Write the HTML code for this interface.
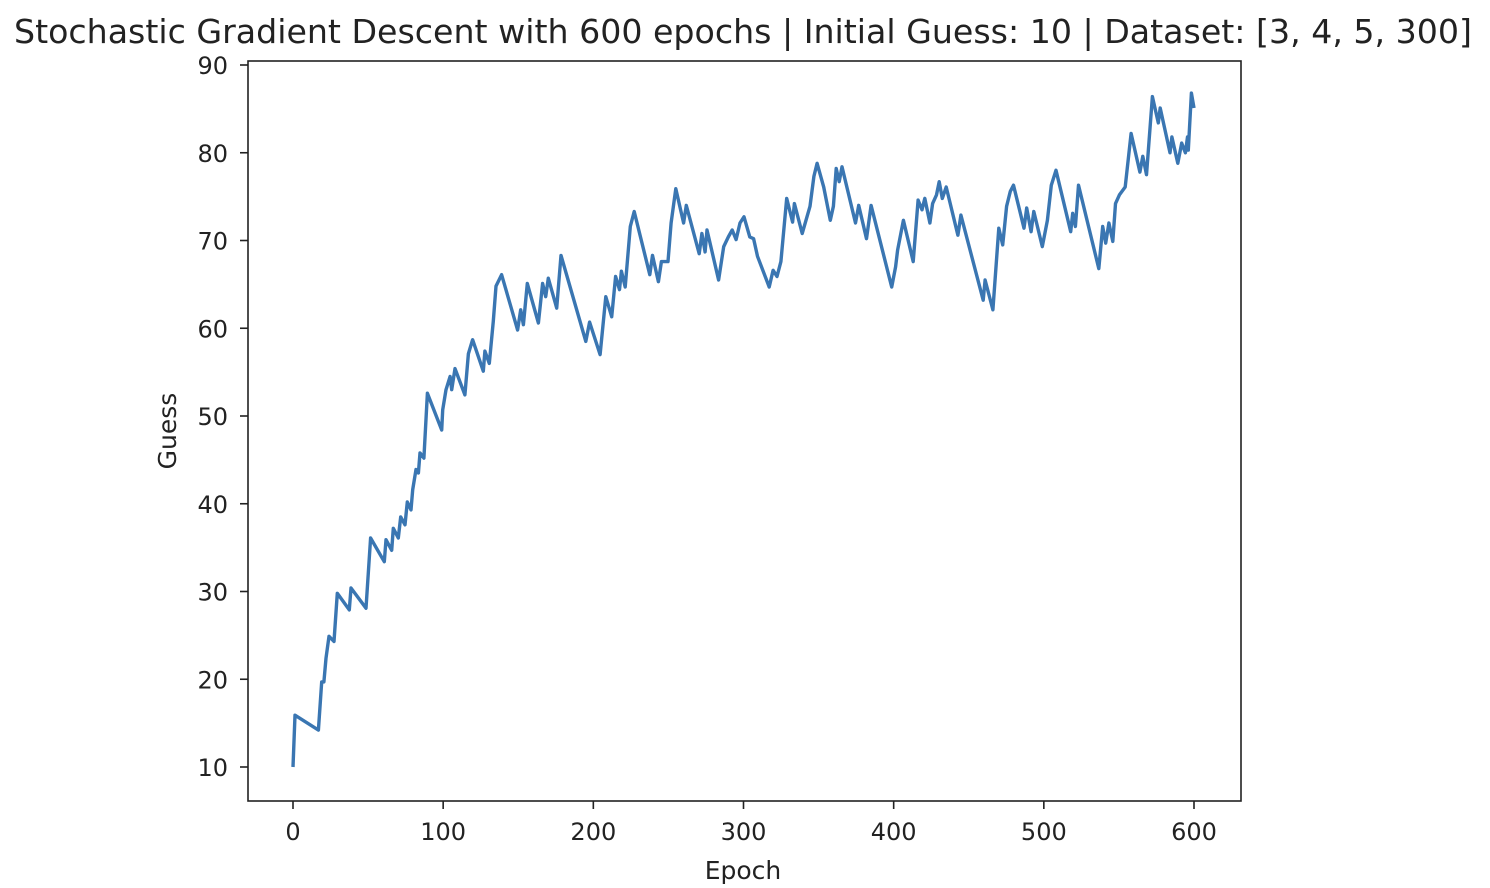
<!DOCTYPE html>
<html><head><meta charset="utf-8"><style>
body{margin:0;background:#fff;}
svg{display:block;font-family:"DejaVu Sans","Liberation Sans",sans-serif;}
</style></head><body>
<svg id="chart" width="1490" height="888">
<text x="14" y="43" textLength="1458" lengthAdjust="spacingAndGlyphs" font-size="33" fill="#222">Stochastic Gradient Descent with 600 epochs | Initial Guess: 10 | Dataset: [3, 4, 5, 300]</text>
<rect x="248" y="61" width="993" height="740" fill="none" stroke="#222" stroke-width="1.6"/>
<g id="xticks"></g>
<g id="yticks"></g>
<text x="743" y="879" text-anchor="middle" font-size="25" fill="#222">Epoch</text>
<text transform="translate(176,431) rotate(-90)" text-anchor="middle" font-size="25" fill="#222">Guess</text>
<path id="line" fill="none" stroke="#3a76b2" stroke-width="3.4" stroke-linejoin="round"/>
</svg>
<script>
const xTicks=[0,100,200,300,400,500,600];
const yTicks=[10,20,30,40,50,60,70,80,90];
const epochs=[0,1.3,16.9,19.1,20.6,22,24,27.3,29.5,37.5,38.6,48.6,51.7,60.8,61.9,65.7,66.8,70.1,71.7,74.6,76.1,78.6,79.7,81.9,83.5,84.6,87.2,89.5,99,99.7,101.9,104.6,105.7,107.9,114.5,116.8,119.6,126.7,127.8,130.7,133.4,135.2,138.9,149.6,151.6,153.4,156,163.4,166.2,168.3,170,175.6,178.5,195,197.5,204.5,208.3,212.2,214.8,217.4,218.7,221.2,224.6,227.2,237.6,239.4,243.3,245.3,249.7,251.8,254.9,260.1,261.9,270.5,272.3,274.4,275.7,283.4,286.8,289.9,292.5,295.1,297.7,300.3,304.2,306.7,309.3,317.1,319.7,322.3,324.9,328.8,332.7,333.9,339.1,344.3,346.9,349,353.4,357.8,359.9,361.7,363.7,365.6,374.6,376.7,381.9,385,398.7,401.3,402.6,406.5,413,416.3,418.9,420.7,424.1,425.9,428.5,430.3,432.4,435,442.8,444.8,459.6,460.9,466.1,470,472.6,475.2,477.7,479.8,486.8,488.6,491.5,493.3,499,502.4,505,508.1,517.9,519.2,521,523.1,536.6,539.2,541.2,543.3,545.9,547.7,550.3,554.2,558.1,564,565.9,568.4,572.3,576.2,577.5,584,585.3,589.2,591.8,594.3,595.7,596.2,598.3,600];
const guesses=[10,15.9,14.2,19.7,19.7,22.4,24.9,24.3,29.8,27.9,30.4,28.1,36.1,33.4,35.9,34.7,37.2,36.1,38.5,37.6,40.2,39.3,41.6,43.9,43.5,45.8,45.2,52.6,48.4,50.7,53,54.5,53,55.4,52.4,57.1,58.7,55.1,57.4,56,60.8,64.8,66.1,59.8,62.1,60.4,65.1,60.6,65.1,63.6,65.7,62.3,68.3,58.5,60.7,57,63.6,61.3,65.9,64.4,66.5,64.7,71.6,73.3,66.1,68.3,65.3,67.6,67.6,72,75.9,72,74,68.5,70.8,68.7,71.2,65.5,69.3,70.4,71.2,70.1,72,72.7,70.4,70.2,68.2,64.7,66.6,65.9,67.6,74.8,72.1,74.2,70.8,73.9,77.3,78.8,76.1,72.3,73.9,78.2,76.7,78.4,72,74,70.2,74,64.7,67,68.9,72.3,67.6,74.6,73.5,74.8,72,74.2,75.2,76.7,74.8,76.1,70.6,72.9,63.2,65.5,62.1,71.4,69.5,73.9,75.6,76.3,71.4,73.7,71,73.3,69.3,72.3,76.3,78,71,73.1,71.6,76.3,66.8,71.6,69.7,72,69.9,74.2,75.2,76.1,82.2,77.8,79.6,77.5,86.4,83.4,85.1,80,81.8,78.8,81.1,80,81.8,80.3,86.8,85.1];
const NS='http://www.w3.org/2000/svg';
const xs=v=>293+v*(1194-293)/600;
const ys=v=>767-(v-10)*(767-65)/80;
const xg=document.getElementById('xticks'),yg=document.getElementById('yticks');
xTicks.forEach(t=>{
  const l=document.createElementNS(NS,'line');
  l.setAttribute('x1',xs(t));l.setAttribute('x2',xs(t));l.setAttribute('y1',801);l.setAttribute('y2',809);
  l.setAttribute('stroke','#222');l.setAttribute('stroke-width','1.6');
  
  
  xg.appendChild(l);
  const tx=document.createElementNS(NS,'text');
  tx.setAttribute('x',xs(t));tx.setAttribute('y',840);tx.setAttribute('text-anchor','middle');
  tx.setAttribute('font-size','24');tx.setAttribute('fill','#222');tx.textContent=t;
  
  
  xg.appendChild(tx);
});
yTicks.forEach(t=>{
  const l=document.createElementNS(NS,'line');
  l.setAttribute('x1',240);l.setAttribute('x2',248);l.setAttribute('y1',ys(t));l.setAttribute('y2',ys(t));
  l.setAttribute('stroke','#222');l.setAttribute('stroke-width','1.6');
  
  
  yg.appendChild(l);
  const tx=document.createElementNS(NS,'text');
  tx.setAttribute('x',228);tx.setAttribute('y',ys(t)+9);tx.setAttribute('text-anchor','end');
  tx.setAttribute('font-size','24');tx.setAttribute('fill','#222');tx.textContent=t;
  
  
  yg.appendChild(tx);
});
document.getElementById('line').setAttribute('d',epochs.map((e,i)=>(i?'L':'M')+xs(e).toFixed(1)+' '+ys(guesses[i]).toFixed(1)).join(' '));
</script>
</body></html>
